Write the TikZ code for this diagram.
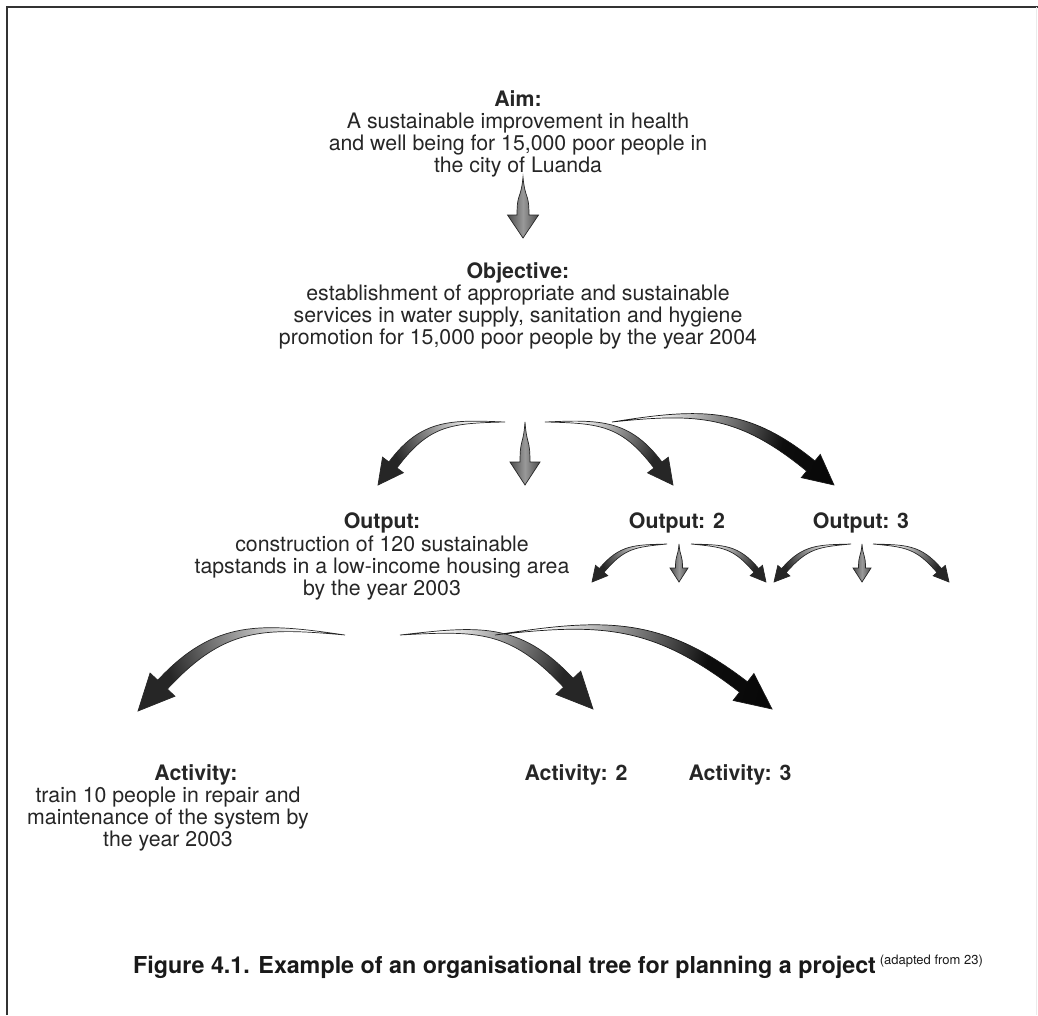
\documentclass[tikz,border=0pt]{standalone}
\usepackage{fontspec}
\setmainfont{TeX Gyre Heros}
\pgfdeclarehorizontalshading{arshade}{100bp}{color(0bp)=(white); color(30bp)=(white); color(70bp)=(black!85); color(100bp)=(black!85)}
\pgfdeclarehorizontalshading{arshadedark}{100bp}{color(0bp)=(white); color(30bp)=(white); color(65bp)=(black!95); color(100bp)=(black)}
\newcommand\shadearrow[7]{%
 \path (#1); \pgfgetlastxy{\arax}{\aray}%
 \path (#2); \pgfgetlastxy{\arbx}{\arby}%
 \pgfmathsetmacro\arL{veclen(\arbx-\arax,\arby-\aray)}%
 \pgfmathsetmacro\arA{atan2(\arby-\aray,\arbx-\arax)}%
 \pgfmathsetmacro\arT{atan2(-2*(#3),\arL/2)}%
 \pgfmathsetmacro\arS{-\arT}%
 \pgfmathsetmacro\arux{cos(\arT)}\pgfmathsetmacro\aruy{sin(\arT)}%
 \pgfmathsetmacro\arnx{-sin(\arT)}\pgfmathsetmacro\arny{cos(\arT)}%
 \pgfmathsetmacro\arsx{-sin(\arS)}\pgfmathsetmacro\arsy{cos(\arS)}%
 \pgfmathsetmacro\arBx{\arL-(#4)*\arux}\pgfmathsetmacro\arBy{-(#4)*\aruy}%
 \pgfmathsetmacro\arD{0.38*\arL}%
 \pgfmathsetmacro\arCx{\arD*cos(\arS)}\pgfmathsetmacro\arCy{\arD*sin(\arS)}%
 \pgfmathsetmacro\arEx{\arBx-\arD*\arux}\pgfmathsetmacro\arEy{\arBy-\arD*\aruy}%
 \pgfmathsetmacro\arw{(#6)/2}\pgfmathsetmacro\arh{(#5)/2}\pgfmathsetmacro\are{0.35*\arw}%
 \begin{scope}[shift={(\arax,\aray)},rotate=\arA,x=1pt,y=1pt]
  \coordinate (arO) at (0,0);
  \coordinate (arP) at (\arL,0);
  \coordinate (arL1) at ({\arCx+\are*\arsx},{\arCy+\are*\arsy});
  \coordinate (arL2) at ({\arEx+\arw*\arnx},{\arEy+\arw*\arny});
  \coordinate (arBl) at ({\arBx+\arw*\arnx},{\arBy+\arw*\arny});
  \coordinate (arHl) at ({\arBx+\arh*\arnx},{\arBy+\arh*\arny});
  \coordinate (arHr) at ({\arBx-\arh*\arnx},{\arBy-\arh*\arny});
  \coordinate (arBr) at ({\arBx-\arw*\arnx},{\arBy-\arw*\arny});
  \coordinate (arR2) at ({\arEx-\arw*\arnx},{\arEy-\arw*\arny});
  \coordinate (arR1) at ({\arCx-\are*\arsx},{\arCy-\are*\arsy});
 \end{scope}
 \path[#7] (arO) .. controls (arL1) and (arL2) .. (arBl) -- (arHl) -- (arP) -- (arHr) -- (arBr) .. controls (arR2) and (arR1) .. (arO) -- cycle;
}
\tikzset{
 txt/.style={align=center, inner sep=0pt, anchor=north, font=\fontsize{21.3}{22.3}\selectfont, text=black!85},
 curvearrow/.style={shading=arshade, shading angle=\arA, draw=black!85, line width=0.7pt},
 darkarrow/.style={shading=arshadedark, shading angle=\arA, draw=black!90, line width=0.7pt},
 straightarrow/.style={left color=black!70, right color=black!70, middle color=black!40, draw=black!85, line width=0.7pt},
}
\begin{document}
\begin{tikzpicture}[x=1pt,y=-1pt]
\useasboundingbox (0,0) rectangle (1038,1015);
\fill[white] (0,0) rectangle (1038,1015);
\draw[line width=2.2pt, black!80] (7,1015) -- (7,7) -- (1038,7);
\draw[line width=1pt, black!8] (1036.5,7) -- (1036.5,1015);

% text blocks
\node[txt] (aim) at (518,90) {\textbf{Aim:}\\A sustainable improvement in health\\and well being for 15,000 poor people in\\the city of Luanda};
\node[txt] (obj) at (518,262) {\textbf{Objective:}\\establishment of appropriate and sustainable\\services in water supply, sanitation and hygiene\\promotion for 15,000 poor people by the year 2004};
\node[txt] (out1) at (382,513) {\textbf{Output:}\\construction of 120 sustainable\\tapstands in a low-income housing area\\by the year 2003};
\node[txt] (out2) at (677,513) {\textbf{Output: 2}};
\node[txt] (out3) at (861,513) {\textbf{Output: 3}};
\node[txt] (act1) at (196,764) {\textbf{Activity:}};
\node[txt] (act1b) at (168,786.3) {train 10 people in repair and\\maintenance of the system by\\the year 2003};
\node[txt] (act2) at (576,764) {\textbf{Activity: 2}};
\node[txt] (act3) at (740,764) {\textbf{Activity: 3}};
\node[anchor=base west, inner sep=0pt, font=\fontsize{23.3}{26}\selectfont\bfseries, text=black!90] (cap) at (133,973) {Figure 4.1. Example of an organisational tree for planning a project\,\raisebox{9pt}{\fontsize{13}{15}\mdseries\selectfont(adapted from 23)}};

% arrow end points
\coordinate (aimS) at (523,177); \coordinate (objE) at (523,238);
\coordinate (oS1) at (505,422); \coordinate (o1E) at (378,485);
\coordinate (oS2) at (525,422); \coordinate (o2E) at (525,485);
\coordinate (oS3) at (545,422); \coordinate (o3E) at (673,485);
\coordinate (oS4) at (612,422); \coordinate (o4E) at (834,485);
\coordinate (pS1) at (667,544); \coordinate (p1E) at (592,582);
\coordinate (pS2) at (679,544); \coordinate (p2E) at (679,582);
\coordinate (pS3) at (691,544); \coordinate (p3E) at (766,582);
\coordinate (qS1) at (851,544); \coordinate (q1E) at (774,582);
\coordinate (qS2) at (862,544); \coordinate (q2E) at (862,582);
\coordinate (qS3) at (873,544); \coordinate (q3E) at (949,582);
\coordinate (uS1) at (345,635); \coordinate (u1E) at (138,711);
\coordinate (uS2) at (400,635); \coordinate (u2E) at (593,709);
\coordinate (uS3) at (495,635); \coordinate (u3E) at (772,709);

\shadearrow{aimS}{objE}{0}{23}{31}{12}{straightarrow}
\shadearrow{oS1}{o1E}{-18}{25}{26}{10}{curvearrow}
\shadearrow{oS2}{o2E}{0}{23}{30}{10}{straightarrow}
\shadearrow{oS3}{o3E}{18}{25}{26}{10}{curvearrow}
\shadearrow{oS4}{o4E}{25}{30}{30}{13}{darkarrow}
\shadearrow{pS1}{p1E}{-9}{15}{16}{6}{curvearrow}
\shadearrow{pS2}{p2E}{0}{14}{18}{7}{straightarrow}
\shadearrow{pS3}{p3E}{9}{15}{16}{6}{curvearrow}
\shadearrow{qS1}{q1E}{-9}{15}{16}{6}{curvearrow}
\shadearrow{qS2}{q2E}{0}{14}{18}{7}{straightarrow}
\shadearrow{qS3}{q3E}{9}{15}{16}{6}{curvearrow}
\shadearrow{uS1}{u1E}{-28}{36}{34}{13}{curvearrow}
\shadearrow{uS2}{u2E}{25}{36}{34}{13}{curvearrow}
\shadearrow{uS3}{u3E}{30}{36}{34}{13}{darkarrow}
\end{tikzpicture}
\end{document}
